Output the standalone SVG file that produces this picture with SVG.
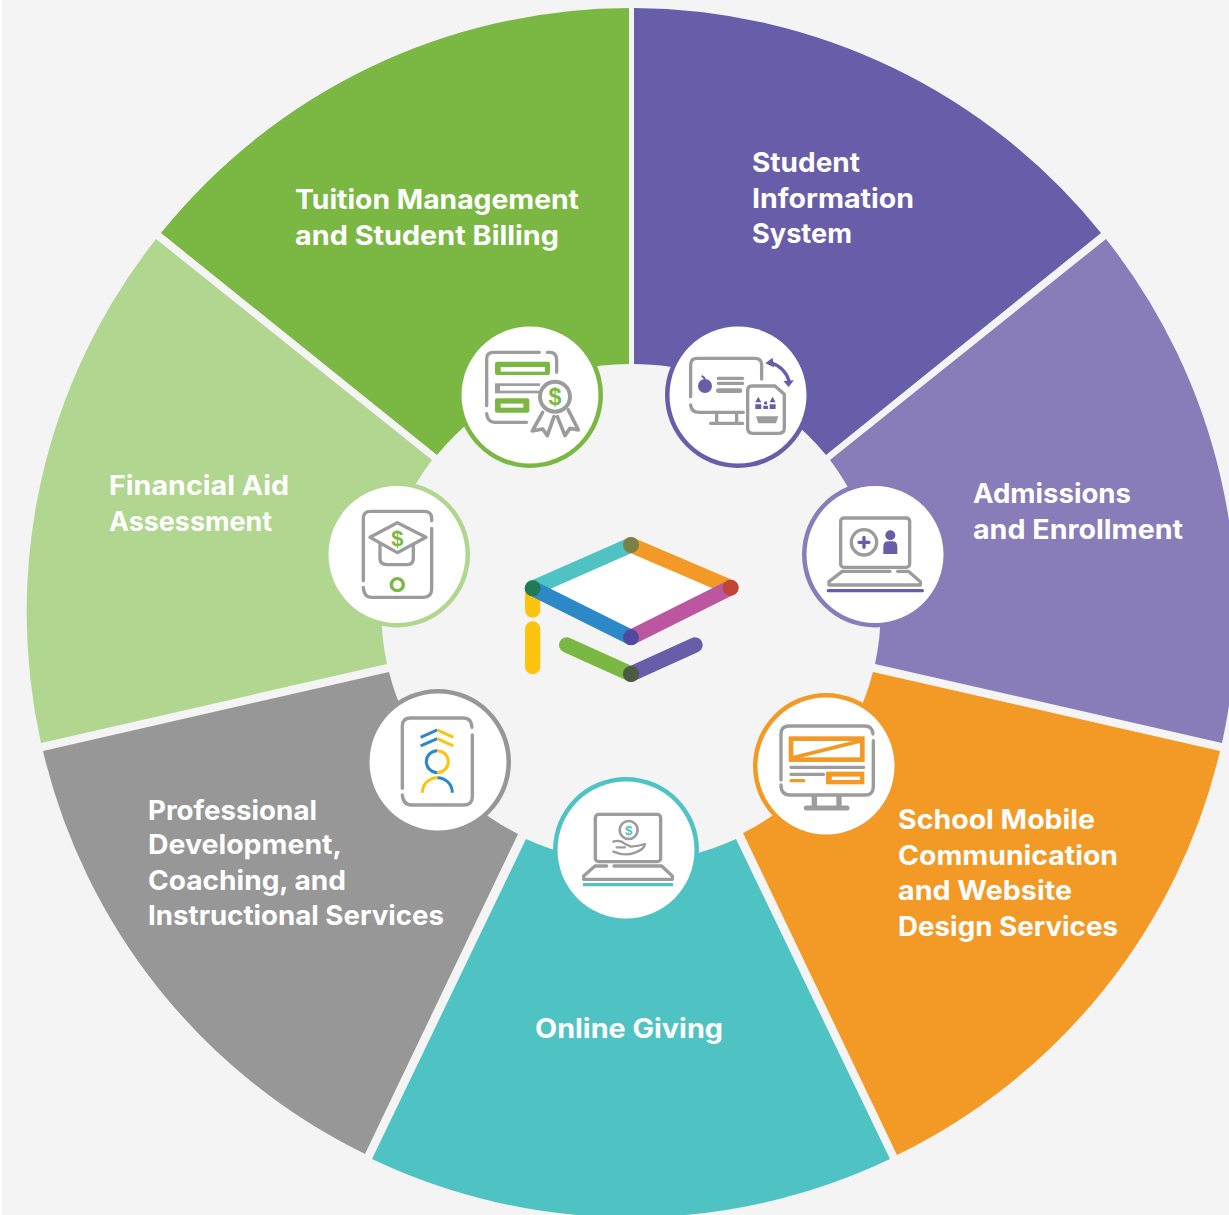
<svg xmlns="http://www.w3.org/2000/svg" width="1229" height="1215" viewBox="0 0 1229 1215">
<style>
.t{font-family:"Inter","Open Sans","Liberation Sans",sans-serif;font-weight:700;font-size:27px;fill:#fff}
.g{fill:none;stroke:#9c9c9c;stroke-width:10;stroke-linecap:round;stroke-linejoin:round}
.gf{fill:#9c9c9c}
.w{fill:#fff}
.d{font-family:"Liberation Sans",sans-serif;font-weight:700;text-anchor:middle}
</style>
<rect width="1229" height="1215" fill="#ffffff"/>
<rect x="2" y="0" width="1227" height="1215" fill="#f4f4f4"/>
<g id="segments">
<path id="seg-tuition" fill="#7ab843" d="M629 8A603 603 0 0 0 161 233L437 455A248 248 0 0 1 629 364Z"/>
<path id="seg-sis" fill="#675da8" d="M634 8A603 603 0 0 1 1101 233L826 455A248 248 0 0 0 634 364Z"/>
<path id="seg-admissions" fill="#887db8" d="M1106 239A603 603 0 0 1 1222 743L875 664A250 250 0 0 0 830 460Z"/>
<path id="seg-mobile" fill="#f29926" d="M1220 751A603 603 0 0 1 897 1155L743 833A250 250 0 0 0 873 672Z"/>
<path id="seg-giving" fill="#4fc3c3" d="M890 1159A603 603 0 0 1 372 1159L526 839A250 250 0 0 0 736 839Z"/>
<path id="seg-prof" fill="#979797" d="M365 1154A603 603 0 0 1 43 751L389 672A250 250 0 0 0 518 834Z"/>
<path id="seg-aid" fill="#b0d690" d="M41 743A603 603 0 0 1 156 239L432 460A250 250 0 0 0 387 664Z"/>
</g>
<g id="labels">
<text class="t" x="295" y="209" textLength="284" lengthAdjust="spacingAndGlyphs">Tuition Management</text>
<text class="t" x="295" y="245" textLength="264" lengthAdjust="spacingAndGlyphs">and Student Billing</text>
<text class="t" x="752" y="172" textLength="108" lengthAdjust="spacingAndGlyphs">Student</text>
<text class="t" x="752" y="208" textLength="162" lengthAdjust="spacingAndGlyphs">Information</text>
<text class="t" x="752" y="243" textLength="100" lengthAdjust="spacingAndGlyphs">System</text>
<text class="t" x="973" y="503" textLength="158" lengthAdjust="spacingAndGlyphs">Admissions</text>
<text class="t" x="973" y="539" textLength="210" lengthAdjust="spacingAndGlyphs">and Enrollment</text>
<text class="t" x="109" y="495" textLength="180" lengthAdjust="spacingAndGlyphs">Financial Aid</text>
<text class="t" x="109" y="531" textLength="163" lengthAdjust="spacingAndGlyphs">Assessment</text>
<text class="t" x="148" y="820" textLength="169" lengthAdjust="spacingAndGlyphs">Professional</text>
<text class="t" x="148" y="854" textLength="194" lengthAdjust="spacingAndGlyphs">Development,</text>
<text class="t" x="148" y="890" textLength="198" lengthAdjust="spacingAndGlyphs">Coaching, and</text>
<text class="t" x="148" y="925" textLength="296" lengthAdjust="spacingAndGlyphs">Instructional Services</text>
<text class="t" x="898" y="829" textLength="197" lengthAdjust="spacingAndGlyphs">School Mobile</text>
<text class="t" x="898" y="865" textLength="220" lengthAdjust="spacingAndGlyphs">Communication</text>
<text class="t" x="898" y="900" textLength="174" lengthAdjust="spacingAndGlyphs">and Website</text>
<text class="t" x="898" y="936" textLength="220" lengthAdjust="spacingAndGlyphs">Design Services</text>
<text class="t" x="535" y="1038" textLength="188" lengthAdjust="spacingAndGlyphs">Online Giving</text>
</g>
<g id="logo" transform="translate(510 525) scale(.3333)" fill="none" stroke-width="46" stroke-linecap="round">
<path d="M68 190L363 60L662 188L363 337Z" fill="#fff" stroke="none"/>
<path d="M68 190V255M68 312V425" stroke="#fdc40f"/>
<path d="M170 360L363 447" stroke="#7ab843"/>
<path d="M363 447L555 360" stroke="#675da8"/>
<path d="M68 190L363 60" stroke="#4fc3c3"/>
<path d="M363 60L662 188" stroke="#f29926"/>
<path d="M662 188L363 337" stroke="#bb57a0"/>
<path d="M68 190L363 337" stroke="#2d88c8"/>
<circle cx="68" cy="190" r="24" fill="#1f7a55"/>
<circle cx="363" cy="60" r="24" fill="#7a8046"/>
<circle cx="662" cy="188" r="24" fill="#c24433"/>
<circle cx="363" cy="337" r="24" fill="#4f4a9f"/>
<circle cx="363" cy="447" r="24" fill="#4d5b40"/>
</g>
<g id="node-tuition">
<circle cx="530" cy="395" r="73" fill="#7ab843"/><circle cx="530" cy="395" r="68.5" class="w"/>
<g transform="translate(450 315) scale(.3333)">
<path class="g" d="M268 112H130Q110 112 110 132V272M110 296Q112 322 135 322H230M292 112H298Q320 112 320 135V172"/>
<rect x="135" y="140" width="165" height="40" rx="6" fill="#7ab843"/><rect x="152" y="156" width="133" height="14" class="w"/>
<rect x="135" y="205" width="135" height="30" class="gf"/><rect x="150" y="213" width="120" height="14" class="w"/>
<rect x="135" y="250" width="103" height="43" rx="6" fill="#7ab843"/><rect x="152" y="266" width="68" height="12" class="w"/>
<path class="g" style="stroke-width:11" d="M278 292L247 348L278 342L292 362L312 305M322 305L345 362L360 340L385 345L355 285"/>
<circle cx="315" cy="245" r="45" class="w" stroke="#9c9c9c" stroke-width="12"/>
<text class="d" x="315" y="270" font-size="70" fill="#7ab843">$</text>
</g>
</g>
<g id="node-sis">
<circle cx="738" cy="395" r="73" fill="#675da8"/><circle cx="738" cy="395" r="68.5" class="w"/>
<g transform="translate(450 315) scale(.3333)">
<path class="g" d="M935 192V150Q935 130 915 130H742Q722 130 722 150V245M722 270Q724 292 747 292H880M800 292V325M860 292V325M782 325H878"/>
<circle cx="765" cy="213" r="21" fill="#675da8"/><path d="M765 192Q762 186 755 183" stroke="#675da8" stroke-width="6" fill="none"/>
<path d="M805 190H878M805 205H878" class="g"/><path d="M805 227H870" class="g" style="stroke-width:14"/>
<path class="g" d="M905 213H975L1003 238V340Q1003 355 988 355H908Q893 355 893 340V228Q893 213 905 213Z"/>
<path d="M925 245L934 262H916ZM968 245L977 262H959Z" fill="#675da8"/><circle cx="947" cy="264" r="5" fill="#675da8"/><path d="M916 268H934V282H916ZM940 272H954V282H940ZM959 268H977V282H959Z" fill="#675da8"/>
<path d="M918 304H985L978 325H925Z" class="gf"/>
<path d="M958 142Q1005 155 1018 200" fill="none" stroke="#675da8" stroke-width="10"/>
<path d="M946 145L968 128L972 157ZM1000 198L1032 196L1016 216Z" fill="#675da8"/>
</g>
</g>
<g id="node-admissions">
<circle cx="875" cy="554.5" r="73" fill="#887db8"/><circle cx="875" cy="554.5" r="68.5" class="w"/>
<g transform="translate(745 480) scale(.3333)">
<rect x="287" y="114" width="207" height="148" rx="10" class="g"/>
<circle cx="357" cy="187" r="38" class="g"/>
<path d="M357 172V202M342 187H372" stroke="#675da8" stroke-width="10" fill="none" stroke-linecap="round"/>
<circle cx="436" cy="166" r="15" fill="#675da8"/><path d="M415 222V200Q415 184 430 184H442Q457 184 457 200V222Z" fill="#675da8"/>
<path class="g" d="M435 274H292L252 305V315H526V305L490 274H458"/>
<path d="M250 332H532" stroke="#675da8" stroke-width="10" fill="none" stroke-linecap="round"/>
</g>
</g>
<g id="node-mobile">
<circle cx="826" cy="766" r="73" fill="#f29926"/><circle cx="826" cy="766" r="68.5" class="w"/>
<g transform="translate(745 480) scale(.3333)">
<path class="g" d="M384 762Q382 738 360 738H132Q108 738 108 762V900M108 915Q108 945 135 945H360Q385 945 385 920V782"/>
<path d="M208 945V980M282 945V980" class="g" style="stroke-width:16;stroke-linecap:butt"/><path d="M184 984H306" class="g" style="stroke-width:15"/>
<rect x="138" y="776" width="214" height="63" fill="none" stroke="#f29926" stroke-width="14"/>
<path d="M140 834L350 782" stroke="#f29926" stroke-width="11" fill="none"/>
<path d="M138 862H356M138 883H236" class="g"/>
<rect x="243" y="875" width="115" height="38" fill="#f29926"/><rect x="260" y="890" width="85" height="10" class="w"/>
<path d="M138 902H176" stroke="#f29926" stroke-width="10" stroke-linecap="round"/>
</g>
</g>
<g id="node-giving">
<circle cx="626" cy="850" r="73" fill="#4fc3c3"/><circle cx="626" cy="850" r="68.5" class="w"/>
<g transform="translate(545 770) scale(.3333)">
<rect x="151" y="133" width="196" height="142" rx="10" class="g"/>
<circle cx="251" cy="180" r="27" fill="none" stroke="#9c9c9c" stroke-width="8"/>
<text class="d" x="251" y="195" font-size="40" fill="#4fc3c3">$</text>
<path class="g" style="stroke-width:7" d="M205 215Q225 208 240 222L258 230M258 230Q280 228 300 222Q298 238 270 248Q240 260 205 245M215 232H240"/>
<path class="g" d="M185 288H150L116 318V328H382V318L350 288H207"/>
<path d="M114 344H384" stroke="#4fc3c3" stroke-width="10" fill="none"/>
</g>
</g>
<g id="node-prof">
<circle cx="438" cy="762" r="73" fill="#979797"/><circle cx="438" cy="762" r="68.5" class="w"/>
<g transform="translate(320 480) scale(.3333)">
<path class="g" d="M456 742Q455 714 430 714H272Q247 714 247 738V925M247 945Q250 975 275 975H430Q457 975 457 950V765"/>
<g fill="none" stroke-width="9">
<path d="M302 772L352 750M302 798L352 776M352 893A45 45 0 0 1 397 938" stroke="#2d88c8"/>
<path d="M352 750L400 772M352 776L400 798M352 893A45 45 0 0 0 307 938" stroke="#fdc40f"/>
<path d="M352 812A33 33 0 0 0 352 878" stroke="#2d88c8"/>
<path d="M352 812A33 33 0 0 1 352 878" stroke="#fdc40f"/>
</g>
</g>
</g>
<g id="node-aid">
<circle cx="397" cy="554.5" r="73" fill="#b0d690"/><circle cx="397" cy="554.5" r="68.5" class="w"/>
<g transform="translate(320 480) scale(.3333)">
<path class="g" d="M335 122V115Q335 94 312 94H152Q130 94 130 115V302M130 322Q132 352 155 352H310Q335 352 335 328V145"/>
<path class="g" d="M180 195V235Q180 254 200 254H262Q280 254 280 235V195"/>
<path class="g" style="fill:#fff" d="M150 172L232 128L318 172L232 218Z"/>
<text class="d" x="232" y="198" font-size="66" fill="#7ab843">$</text>
<circle cx="232" cy="314" r="18" fill="none" stroke="#7ab843" stroke-width="10"/>
</g>
</g>
</svg>
